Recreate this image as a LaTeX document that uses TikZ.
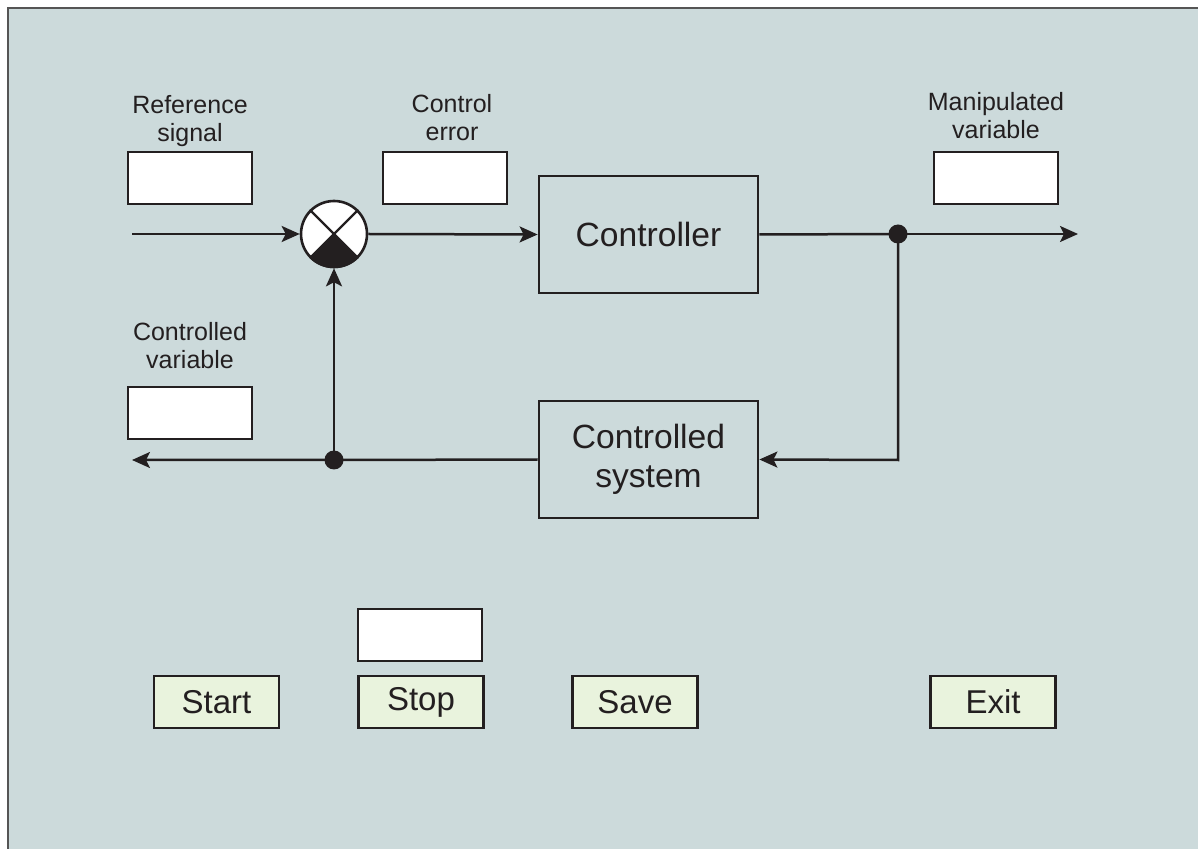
\documentclass[tikz,border=0pt]{standalone}
\usepackage{fontspec}
\setmainfont{Liberation Sans}
\usetikzlibrary{arrows.meta}
\definecolor{bgcol}{HTML}{CCDADB}
\definecolor{btncol}{HTML}{E9F3DD}
\definecolor{inkcol}{HTML}{231F20}
\definecolor{framecol}{HTML}{555555}
\begin{document}
\begin{tikzpicture}[x=0.5pt, y=-0.5pt, >={Stealth[length=9pt,width=8pt,inset=2pt]},
    line width=1.25pt, draw=inkcol, text=inkcol,
    lbl/.style={align=center, inner sep=0pt, font=\fontsize{12.5}{14}\selectfont},
    field/.style={draw, fill=white, line width=1.4pt, minimum width=62pt, minimum height=26pt, inner sep=0pt},
    btn/.style={draw, fill=btncol, line width=1.4pt, minimum width=62.5pt, minimum height=26pt, inner sep=0pt, font=\fontsize{16.5}{19}\selectfont},
    block/.style={draw, line width=1.4pt, minimum width=109.5pt, minimum height=58.5pt, align=center, font=\fontsize{16.8}{19.5}\selectfont},
    junction/.style={circle, fill=inkcol, minimum size=9.5pt, inner sep=0pt}]
  \useasboundingbox (0,0) rectangle (1198,849);
  \fill[bgcol] (8,8) rectangle (1198,849);
  \draw[framecol, line width=1pt] (8,849) -- (8,8) -- (1198,8);
  % blocks
  \node[block] (ctrl) at (648.5,234.5) {Controller};
  \node[block] (plant) at (648.5,459.5) {Controlled\\system};
  \node[circle, draw, fill=white, line width=1.3pt, minimum size=33pt, inner sep=0pt] (sum) at (334,234) {};
  \fill[inkcol] (sum.center) -- (sum.-45) arc[start angle=-45, end angle=-135, radius=17.1pt] -- cycle;
  \draw[line width=1.2pt] (sum.45) -- (sum.225);
  \draw[line width=1.2pt] (sum.135) -- (sum.-45);
  \node[junction] (split) at (898,234) {};
  \node[junction] (tap) at (334,460) {};
  \coordinate (in) at (132,234);
  \coordinate (out) at (1078,234);
  \coordinate (back) at (132,460);
  \coordinate (corner) at (898,460);
  % signal lines
  \draw[->] (in) -- (sum.west);
  \draw[->] (sum.east) -- (ctrl.west);
  \draw (ctrl.east) -- (split.center);
  \draw[->] (split.center) -- (out);
  \draw[->] (split.center) -- (corner) -- (plant.east);
  \draw[->] (plant.west) -- (tap.center) -- (back);
  \draw[->] (tap.center) -- (sum.south);
  % value fields and labels
  \node[field] (refbox) at (190,178) {};
  \node[lbl] (reflbl) at (190,121) {Reference\\signal};
  \node[field] (errbox) at (445,178) {};
  \node[lbl] (errlbl) at (452,118) {Control\\error};
  \node[field] (manbox) at (996,178) {};
  \node[lbl] (manlbl) at (996,116) {Manipulated\\variable};
  \node[field] (cvbox) at (190,413) {};
  \node[lbl] (cvlbl) at (190,346) {Controlled\\variable};
  \node[field] (stopbox) at (420,635) {};
  % buttons
  \node[btn] (start) at (216.5,702) {Start};
  \node[btn] (stop) at (421,702) {Stop};
  \node[btn] (save) at (635,702) {Save};
  \node[btn] (exit) at (993,702) {Exit};
\end{tikzpicture}
\end{document}
